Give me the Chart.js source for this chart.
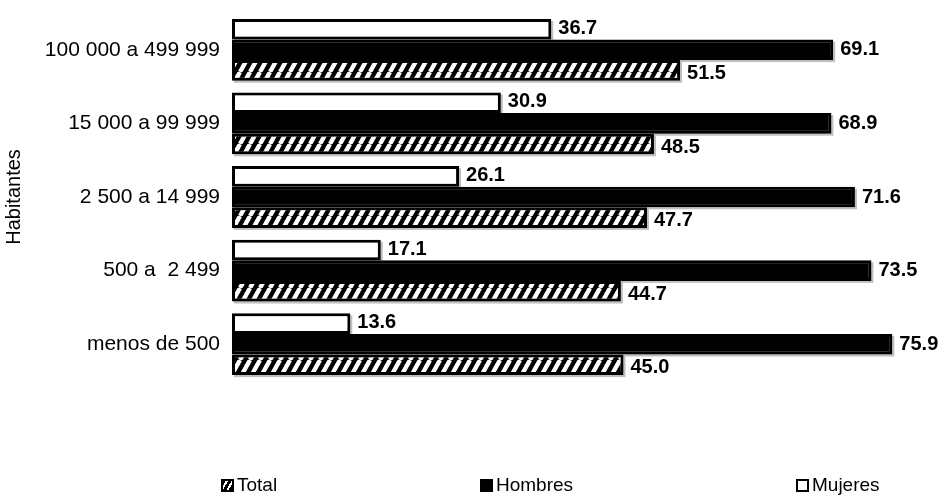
<!DOCTYPE html>
<html>
<head>
<meta charset="utf-8">
<script src="https://cdn.jsdelivr.net/npm/chart.js@4"></script>
<style>
  body { margin: 0; background: #fff; }
  #wrap { position: relative; width: 946px; height: 499px; }
  .leg { position: absolute; top: 474px; font: 19px "Liberation Sans", Arial, sans-serif; color: #000; white-space: nowrap; }
  .leg i { display: inline-block; width: 9px; height: 9px; border: 2px solid #000; vertical-align: -1px; margin-right: 3px; }
</style>
</head>
<body>
<div id="wrap">
  <canvas id="myChart" width="946" height="499"></canvas>
  <div class="leg" style="left:221px"><i style="background:repeating-linear-gradient(-60deg,#000 0 3px,#fff 3px 5px)"></i>Total</div>
  <div class="leg" style="left:480px"><i style="background:#000"></i>Hombres</div>
  <div class="leg" style="left:796px"><i style="background:#fff"></i>Mujeres</div>
</div>
<script>
let categories = ['100 000 a 499 999', '15 000 a 99 999', '2 500 a 14 999', '500 a  2 499', 'menos de 500'];
let mujeres = [36.7, 30.9, 26.1, 17.1, 13.6];
let hombres = [69.1, 68.9, 71.6, 73.5, 75.9];
let total = [51.5, 48.5, 47.7, 44.7, 45.0];

// black with white "/" stripes
function hatch() {
    let w = 10, h = 18;
    let c = document.createElement('canvas');
    c.width = w; c.height = h;
    let g = c.getContext('2d');
    g.fillStyle = '#000';
    g.fillRect(0, 0, w, h);
    g.strokeStyle = '#fff';
    g.lineWidth = 4.4;
    for (let x0 = -w; x0 <= w; x0 += w) {
        g.beginPath();
        g.moveTo(x0, h);
        g.lineTo(x0 + w, 0);
        g.stroke();
    }
    return document.getElementById('myChart').getContext('2d').createPattern(c, 'repeat');
}

let labelOffset = [-1, 0, 3];

const barLabels = {
    id: 'barLabels',
    beforeDatasetsDraw(chart) {
        let ctx = chart.ctx;
        ctx.save();
        ctx.fillStyle = 'rgba(0,0,0,0.25)';
        chart.data.datasets.forEach((ds, i) => {
            chart.getDatasetMeta(i).data.forEach(bar => {
                let top = bar.y - bar.height / 2;
                ctx.fillRect(bar.base + 2, top + 2, bar.x - bar.base, bar.height);
            });
        });
        ctx.restore();
    },
    afterDatasetsDraw(chart) {
        let ctx = chart.ctx;
        ctx.save();
        ctx.fillStyle = '#000';
        ctx.font = 'bold 20px "Liberation Sans", Arial, sans-serif';
        ctx.textBaseline = 'middle';
        ctx.textAlign = 'left';
        chart.data.datasets.forEach((ds, i) => {
            chart.getDatasetMeta(i).data.forEach((bar, j) => {
                ctx.fillText(ds.data[j].toFixed(1), bar.x + 7, bar.y + labelOffset[i]);
            });
        });
        ctx.restore();
    }
};

const config = {
    type: 'bar',
    data: {
        labels: categories,
        datasets: [
            { label: 'Mujeres', data: mujeres, backgroundColor: '#fff', borderColor: '#000', borderWidth: 3, borderSkipped: false },
            { label: 'Hombres', data: hombres, backgroundColor: '#000', borderColor: '#000', borderWidth: 3, borderSkipped: false },
            { label: 'Total', data: total, backgroundColor: hatch(), borderColor: '#000', borderWidth: 3, borderSkipped: false }
        ]
    },
    options: {
        indexAxis: 'y',
        responsive: false,
        animation: false,
        categoryPercentage: 0.84,
        barPercentage: 1,
        layout: { padding: { left: 0, right: 18, top: 13, bottom: 118 } },
        plugins: {
            legend: { display: false },
            tooltip: { enabled: false }
        },
        scales: {
            x: { display: false, min: 0, max: 80 },
            y: {
                grid: { display: false, drawTicks: false },
                border: { display: false },
                ticks: { color: '#000', padding: 12, font: { family: '"Liberation Sans", Arial, sans-serif', size: 21 } },
                title: { display: true, text: 'Habitantes', color: '#000', padding: 2, font: { family: '"Liberation Sans", Arial, sans-serif', size: 20 } },
                afterFit: s => { s.width = 232; s.paddingTop = 0; s.paddingBottom = 0; }
            }
        }
    },
    plugins: [barLabels]
};

let myChart = new Chart(document.getElementById('myChart'), config);
</script>
</body>
</html>
